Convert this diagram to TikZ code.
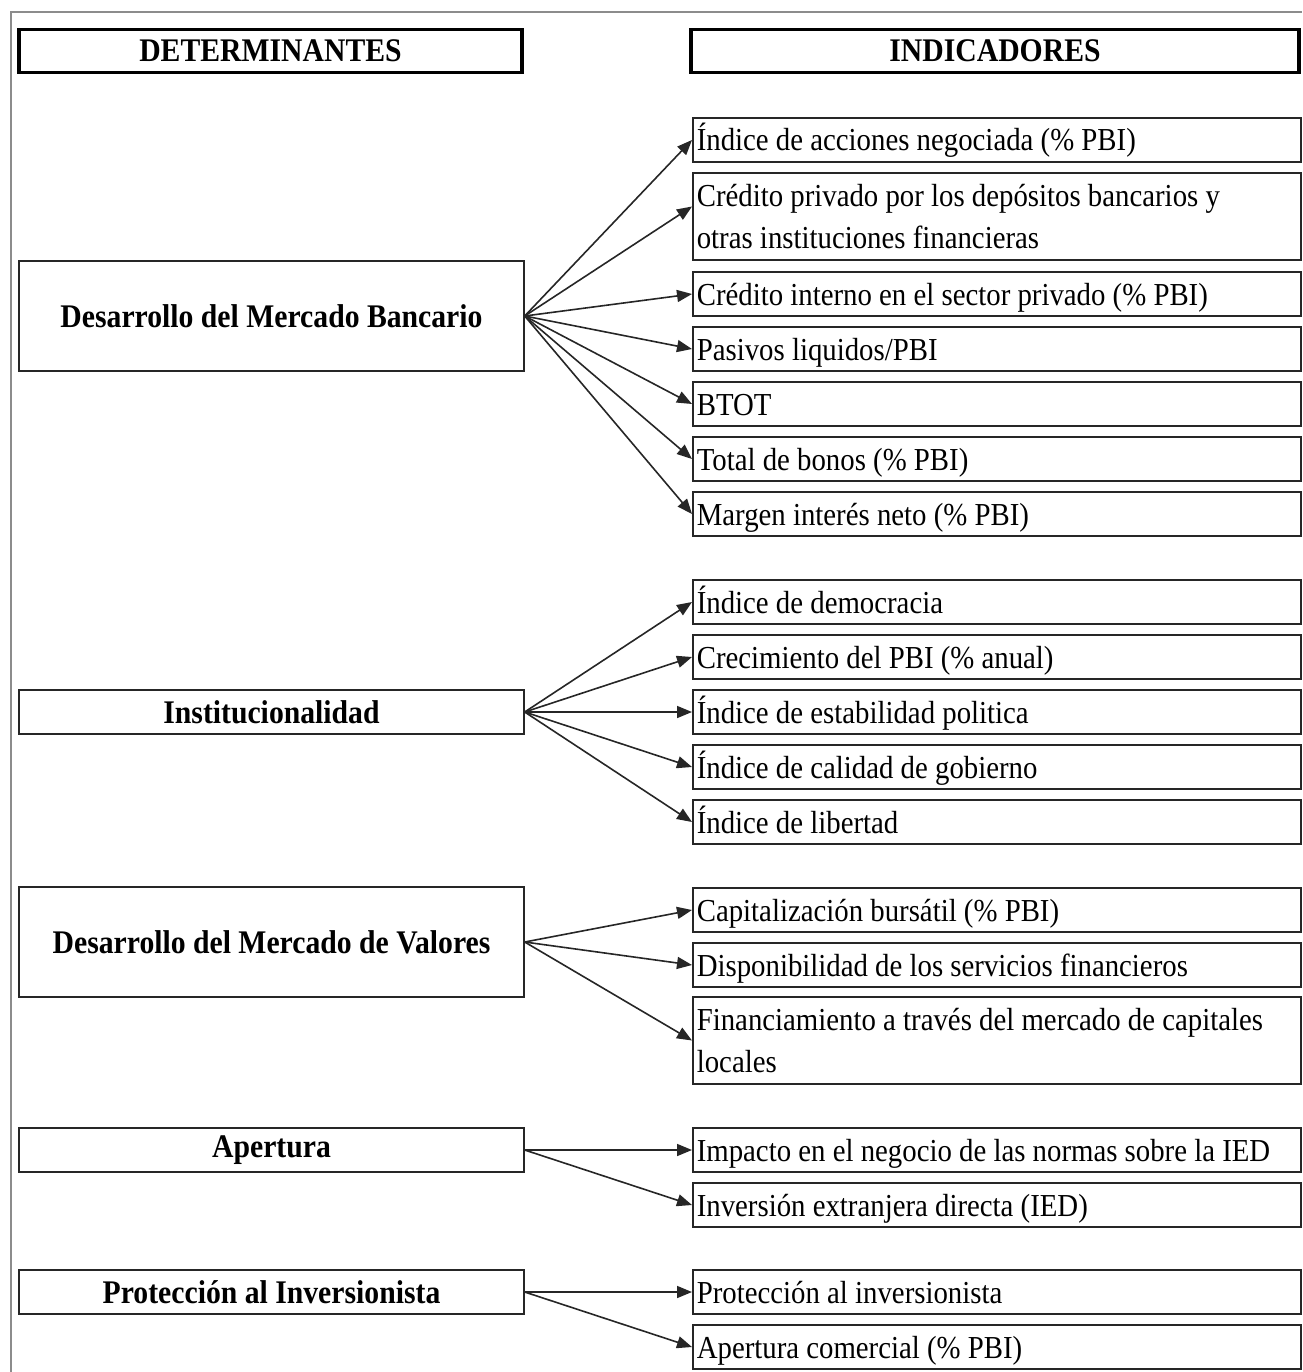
\documentclass[tikz,border=0pt]{standalone}
\usepackage{fontspec}
\setmainfont{Liberation Serif}[FakeStretch=0.9]
\usetikzlibrary{arrows.meta}

\begin{document}
\begin{tikzpicture}[x=1pt,y=-1pt,
  indbase/.style={draw=black!85, line width=1.6pt, anchor=west,
    text width=600pt, inner xsep=4pt, inner ysep=0pt, align=flush left,
    font=\fontsize{32}{42}\selectfont},
  ind/.style={indbase, text height=26pt, text depth=4pt, minimum height=44pt},
  indtwo/.style={indbase, minimum height=87pt},
  det/.style={draw=black!85, line width=1.4pt, minimum width=505pt,
    inner sep=0pt, align=center, font=\bfseries\fontsize{33}{40}\selectfont},
  head/.style={draw=black, line width=3.5pt, minimum height=43pt,
    inner sep=0pt, font=\bfseries\fontsize{33}{40}\selectfont},
  link/.style={-{Triangle[length=15pt,width=12pt]}, line width=1.6pt, draw=black!85}
]
\useasboundingbox (0,0) rectangle (1302,1372);

% outer frame
\draw[black!45, line width=1.5pt] (11,1372) -- (11,12) -- (1302,12);

% column headers
\node[head, minimum width=503pt] (hdet) at (270.5,51) {DETERMINANTES};
\node[head, minimum width=608pt] (hind) at (995,51) {INDICADORES};

% determinants
\node[det, minimum height=110pt] (banc) at (271.5,316) {Desarrollo del Mercado Bancario};
\node[det, minimum height=44pt]  (inst) at (271.5,712) {Institucionalidad};
\node[det, minimum height=110pt] (valo) at (271.5,942) {Desarrollo del Mercado de Valores};
\node[det, minimum height=44pt]  (aper) at (271.5,1150) {Apertura};
\node[det, minimum height=44pt]  (prot) at (271.5,1292) {Protección al Inversionista};

% indicators
\node[ind] (r1)  at (692,140)    {Índice de acciones negociada (\% PBI)};
\node[indtwo] (r2) at (692,216.5)
  {Crédito privado por los depósitos bancarios y\\otras instituciones financieras};
\node[ind] (r3)  at (692,294)    {Crédito interno en el sector privado (\% PBI)};
\node[ind] (r4)  at (692,349)    {Pasivos liquidos/PBI};
\node[ind] (r5)  at (692,404)    {BTOT};
\node[ind] (r6)  at (692,459)    {Total de bonos (\% PBI)};
\node[ind] (r7)  at (692,514)    {Margen interés neto (\% PBI)};

\node[ind] (r8)  at (692,602)    {Índice de democracia};
\node[ind] (r9)  at (692,657)    {Crecimiento del PBI (\% anual)};
\node[ind] (r10) at (692,712)    {Índice de estabilidad politica};
\node[ind] (r11) at (692,767)    {Índice de calidad de gobierno};
\node[ind] (r12) at (692,822)    {Índice de libertad};

\node[ind] (r13) at (692,910)    {Capitalización bursátil (\% PBI)};
\node[ind] (r14) at (692,965)    {Disponibilidad de los servicios financieros};
\node[indtwo] (r15) at (692,1040.5)
  {Financiamiento a través del mercado de capitales\\locales};

\node[ind] (r16) at (692,1150)   {Impacto en el negocio de las normas sobre la IED};
\node[ind] (r17) at (692,1205)   {Inversión extranjera directa (IED)};

\node[ind] (r18) at (692,1292)   {Protección al inversionista};
\node[ind] (r19) at (692,1347)   {Apertura comercial (\% PBI)};

% connectors
\draw[link] (banc.east) -- (r1.west);
\draw[link] (banc.east) -- ([yshift=10pt]r2.west);
\draw[link] (banc.east) -- (r3.west);
\draw[link] (banc.east) -- (r4.west);
\draw[link] (banc.east) -- (r5.west);
\draw[link] (banc.east) -- (r6.west);
\draw[link] (banc.east) -- (r7.west);

\draw[link] (inst.east) -- (r8.west);
\draw[link] (inst.east) -- (r9.west);
\draw[link] (inst.east) -- (r10.west);
\draw[link] (inst.east) -- (r11.west);
\draw[link] (inst.east) -- (r12.west);

\draw[link] (valo.east) -- (r13.west);
\draw[link] (valo.east) -- (r14.west);
\draw[link] (valo.east) -- (r15.west);

\draw[link] (aper.east) -- (r16.west);
\draw[link] (aper.east) -- (r17.west);

\draw[link] (prot.east) -- (r18.west);
\draw[link] (prot.east) -- (r19.west);
\end{tikzpicture}
\end{document}
